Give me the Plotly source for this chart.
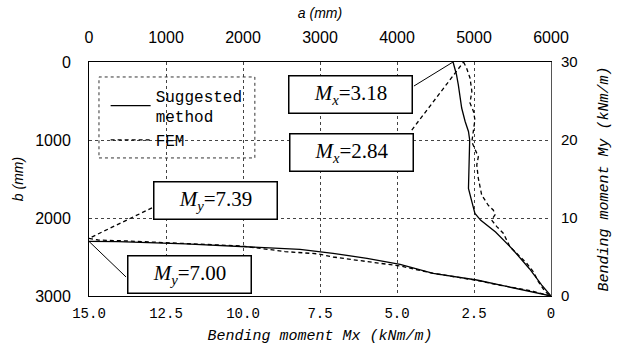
import plotly.graph_objects as go

# Mx distribution along b (bottom / left axes)
b_sugg = [0, 160, 290, 460, 590, 760, 890, 1000, 1300, 1620, 1790, 1940, 2030, 2180, 2400, 2650, 2860, 3000]
mx_sugg = [3.18, 3.07, 3.01, 2.95, 2.90, 2.79, 2.68, 2.64, 2.67, 2.68, 2.57, 2.47, 2.28, 1.80, 1.25, 0.70, 0.30, 0.0]
b_fem = [0, 80, 205, 375, 525, 630, 740, 870, 1025, 1215, 1320, 1490, 1705, 1835, 1900, 1960, 2025, 2110,
         2195, 2370, 2430, 2580, 2690, 2815, 2945, 3000]
mx_fem = [2.84, 2.74, 2.63, 2.57, 2.63, 2.52, 2.47, 2.52, 2.57, 2.36, 2.41, 2.36, 2.25, 2.04, 1.87, 1.82, 1.93,
          1.76, 1.55, 1.33, 1.17, 0.79, 0.57, 0.41, 0.19, 0.0]

# My distribution along a (top / right axes)
a_sugg = [0, 380, 1250, 1980, 2740, 3170, 3610, 4040, 4470, 5035, 5340, 5770, 6000]
my_sugg = [7.00, 6.96, 6.67, 6.32, 5.99, 5.47, 4.83, 4.06, 2.91, 2.05, 1.41, 0.55, 0.0]
a_fem = [0, 120, 510, 990, 1980, 2545, 2740, 2975, 3170, 3610, 4040, 4470, 5035, 5340, 5770, 6000]
my_fem = [7.39, 7.18, 7.05, 6.83, 6.41, 5.70, 5.55, 5.40, 5.00, 4.40, 3.85, 2.91, 2.00, 1.38, 0.60, 0.0]

mx_ticks = [15, 12.5, 10, 7.5, 5, 2.5, 0]
mx_ticktext = ["15.0", "12.5", "10.0", "7.5", "5.0", "2.5", "0"]

SANS = "Liberation Sans"
MONO = "Liberation Mono"
SERIF = "Liberation Serif"
DASH = "4px,3px"

fig = go.Figure()
fig.add_trace(go.Scatter(x=mx_sugg, y=b_sugg, mode="lines", name="Suggested<br>method",
                         legendgroup="s", line=dict(color="black", width=1.3), xaxis="x", yaxis="y"))
fig.add_trace(go.Scatter(x=mx_fem, y=b_fem, mode="lines", name="FEM",
                         legendgroup="f", line=dict(color="black", width=1.3, dash=DASH), xaxis="x", yaxis="y"))
fig.add_trace(go.Scatter(x=a_sugg, y=my_sugg, mode="lines", showlegend=False,
                         legendgroup="s", line=dict(color="black", width=1.3), xaxis="x2", yaxis="y2"))
fig.add_trace(go.Scatter(x=a_fem, y=my_fem, mode="lines", showlegend=False,
                         legendgroup="f", line=dict(color="black", width=1.3, dash=DASH), xaxis="x2", yaxis="y2"))

grid = dict(showgrid=True, gridcolor="#444", griddash="dot", gridwidth=1)
line = dict(showline=True, linecolor="black", linewidth=1, zeroline=False, ticks="")

fig.update_layout(
    width=619, height=355,
    margin=dict(l=89, r=68, t=62, b=59, autoexpand=False),
    paper_bgcolor="white", plot_bgcolor="white",
    xaxis=dict(range=[15, 0], tickvals=mx_ticks, ticktext=mx_ticktext, showgrid=False,
               tickfont=dict(family=MONO, size=14, color="black"), ticklabelstandoff=4,
               title=dict(text="Bending moment Mx (kNm/m)", standoff=8,
                          font=dict(family=MONO, size=15, style="italic", color="black")),
               **line),
    xaxis2=dict(range=[0, 6000], dtick=1000, overlaying="x", side="top",
                tickfont=dict(family=SANS, size=16, color="black"), ticklabelstandoff=12,
                title=dict(text="a (mm)", standoff=6,
                           font=dict(family=SANS, size=14, style="italic", color="black")),
                **grid, **line),
    yaxis=dict(range=[3000, 0], dtick=1000,
               tickfont=dict(family=SANS, size=16, color="black"), ticklabelstandoff=14,
               title=dict(text="b (mm)", standoff=8,
                          font=dict(family=SANS, size=14, style="italic", color="black")),
               **grid, **line),
    yaxis2=dict(range=[0, 30], dtick=10, overlaying="y", side="right", showgrid=False,
                tickfont=dict(family=SANS, size=15, color="black"), ticklabelstandoff=6,
                title=dict(text="Bending moment My (kNm/m)", standoff=20,
                           font=dict(family=MONO, size=15, style="italic", color="black")),
                linecolor="#555", showline=True, linewidth=1, zeroline=False, ticks=""),
    legend=dict(x=0.036, y=0.93, xanchor="left", yanchor="top", bgcolor="rgba(0,0,0,0)",
                borderwidth=0, itemwidth=40, tracegroupgap=0,
                font=dict(family=MONO, size=16, color="black")),
    showlegend=True,
)

# dotted frame round the legend
fig.add_shape(type="rect", xref="paper", yref="paper", x0=0.0216, x1=0.359, y0=0.590, y1=0.936,
              line=dict(color="#333", width=1, dash="dot"))

# boxed value labels
def box(text, xc, yc):
    fig.add_annotation(text=text, xref="paper", yref="paper", x=xc, y=yc, showarrow=False,
                       xanchor="center", yanchor="middle",
                       width=120, height=34, bordercolor="black", borderwidth=1.5, borderpad=1,
                       bgcolor="white", font=dict(family=SERIF, size=21, color="black"))

box("<i>M</i><sub><i>x</i></sub>=3.18", 0.567, 0.861)
box("<i>M</i><sub><i>x</i></sub>=2.84", 0.569, 0.615)
box("<i>M</i><sub><i>y</i></sub>=7.39", 0.273, 0.408)
box("<i>M</i><sub><i>y</i></sub>=7.00", 0.2175, 0.092)

# leader lines from the boxes to the end values
fig.add_shape(type="line", xref="x", yref="y", x0=4.45, y0=308, x1=mx_sugg[0], y1=b_sugg[0],
              line=dict(color="black", width=1))
fig.add_shape(type="line", xref="x", yref="y", x0=4.52, y0=872, x1=mx_fem[0], y1=b_fem[0],
              line=dict(color="black", width=1.3, dash=DASH))
fig.add_shape(type="line", xref="x2", yref="y2", x0=818, y0=11.3, x1=a_fem[0], y1=my_fem[0],
              line=dict(color="black", width=1.3, dash=DASH))
fig.add_shape(type="line", xref="x2", yref="y2", x0=481, y0=2.44, x1=a_sugg[0], y1=my_sugg[0],
              line=dict(color="black", width=1))

fig.write_html("out.html")
